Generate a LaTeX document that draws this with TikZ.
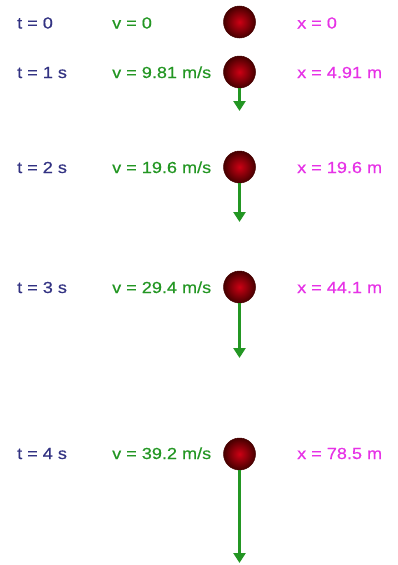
\documentclass[tikz,border=0pt]{standalone}
\usepackage{fontspec}
\setmainfont{Liberation Sans}[FakeStretch=1.13,FakeBold=0.5]
\usetikzlibrary{arrows.meta}
\definecolor{tblue}{RGB}{50,50,130}
\definecolor{vgreen}{RGB}{35,150,35}
\definecolor{xpink}{RGB}{230,50,230}
\definecolor{ballred}{RGB}{205,0,20}
\definecolor{balldark}{RGB}{70,0,0}
\tikzset{
 lbl/.style={anchor=base west,inner sep=0pt,font=\fontsize{16}{19}\selectfont},
 ball/.style={circle,minimum size=32pt,inner sep=0pt,inner color=ballred,outer color=balldark,draw=balldark,line width=0.5pt},
 vel/.style={vgreen,line width=3.2pt,-{Triangle[width=12pt,length=10pt]}}
}
\begin{document}
\begin{tikzpicture}[x=1pt,y=-1pt]
 \useasboundingbox (0,0) rectangle (397,565);
 % time labels
 \node[lbl,tblue] (t0) at (17,28.5) {t = 0};
 \node[lbl,tblue] (t1) at (17,78) {t = 1 s};
 \node[lbl,tblue] (t2) at (17,173) {t = 2 s};
 \node[lbl,tblue] (t3) at (17,293) {t = 3 s};
 \node[lbl,tblue] (t4) at (17,459) {t = 4 s};
 % velocities
 \node[lbl,vgreen] (v0) at (112,28.5) {v = 0};
 \node[lbl,vgreen] (v1) at (112,78) {v = 9.81 m/s};
 \node[lbl,vgreen] (v2) at (112,173) {v = 19.6 m/s};
 \node[lbl,vgreen] (v3) at (112,293) {v = 29.4 m/s};
 \node[lbl,vgreen] (v4) at (112,459) {v = 39.2 m/s};
 % distances
 \node[lbl,xpink] (x0) at (297,28.5) {x = 0};
 \node[lbl,xpink] (x1) at (297,78) {x = 4.91 m};
 \node[lbl,xpink] (x2) at (297,173) {x = 19.6 m};
 \node[lbl,xpink] (x3) at (297,293) {x = 44.1 m};
 \node[lbl,xpink] (x4) at (297,459) {x = 78.5 m};
 % balls
 \node[ball] (b0) at (239.5,22) {};
 \node[ball] (b1) at (239.5,72) {};
 \node[ball] (b2) at (239.5,167) {};
 \node[ball] (b3) at (239.5,287) {};
 \node[ball] (b4) at (239.5,454) {};
 % velocity arrows
 \coordinate (e1) at (239.5,111);
 \coordinate (e2) at (239.5,222);
 \coordinate (e3) at (239.5,358);
 \coordinate (e4) at (239.5,563);
 \draw[vel] (b1.south)--(e1);
 \draw[vel] (b2.south)--(e2);
 \draw[vel] (b3.south)--(e3);
 \draw[vel] (b4.south)--(e4);
\end{tikzpicture}
\end{document}
